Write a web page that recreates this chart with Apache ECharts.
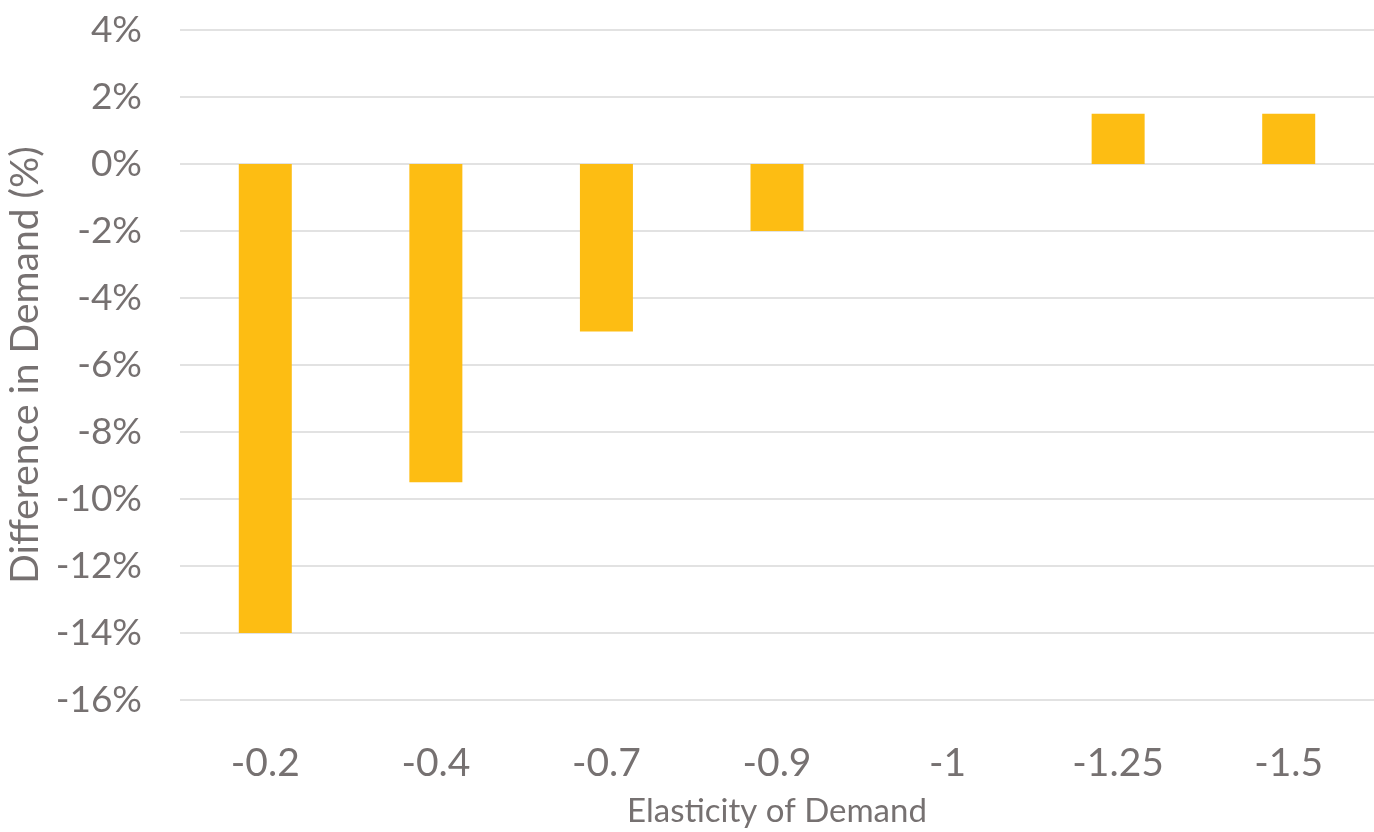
<!DOCTYPE html>
<html>
<head>
<meta charset="utf-8">
<script src="https://cdn.jsdelivr.net/npm/echarts@6/dist/echarts.min.js"></script>
<style>
  html, body { margin: 0; padding: 0; background: #fff; }
  #chart { width: 1374px; height: 832px; }
</style>
</head>
<body>
<div id="chart"></div>
<script>
// Elasticity values along the x axis
const categories = ['-0.2', '-0.4', '-0.7', '-0.9', '-1', '-1.25', '-1.5'];
// Difference in demand, in percent
const demandDiff = [-14, -9.5, -5, -2, 0, 1.5, 1.5];

const textColor = '#767171';
const fontFamily = 'Lato, "Open Sans", sans-serif';

const chart = echarts.init(document.getElementById('chart'));
chart.setOption({
  animation: false,
  grid: { left: 180, right: 0, top: 30, bottom: 132, outerBoundsMode: 'none', containLabel: false },
  xAxis: {
    type: 'category',
    data: categories,
    name: 'Elasticity of Demand',
    nameLocation: 'middle',
    nameGap: 95,
    nameTextStyle: { color: textColor, fontSize: 33, fontFamily },
    axisLine: { show: false },
    axisTick: { show: false },
    axisLabel: { color: textColor, fontSize: 39, fontFamily, margin: 44 }
  },
  yAxis: {
    type: 'value',
    min: -16,
    max: 4,
    interval: 2,
    name: 'Difference in Demand (%)',
    nameLocation: 'middle',
    nameGap: 133,
    nameTextStyle: { color: textColor, fontSize: 39, fontFamily },
    axisLabel: { color: textColor, fontSize: 37, fontFamily, margin: 38, formatter: '{value}%' },
    splitLine: { lineStyle: { color: '#d9d9d9', width: 1.5 } },
    axisLine: { show: false },
    axisTick: { show: false }
  },
  series: [{
    type: 'bar',
    data: demandDiff,
    barWidth: 53,
    itemStyle: { color: '#FDBD13' }
  }]
});
</script>
</body>
</html>
